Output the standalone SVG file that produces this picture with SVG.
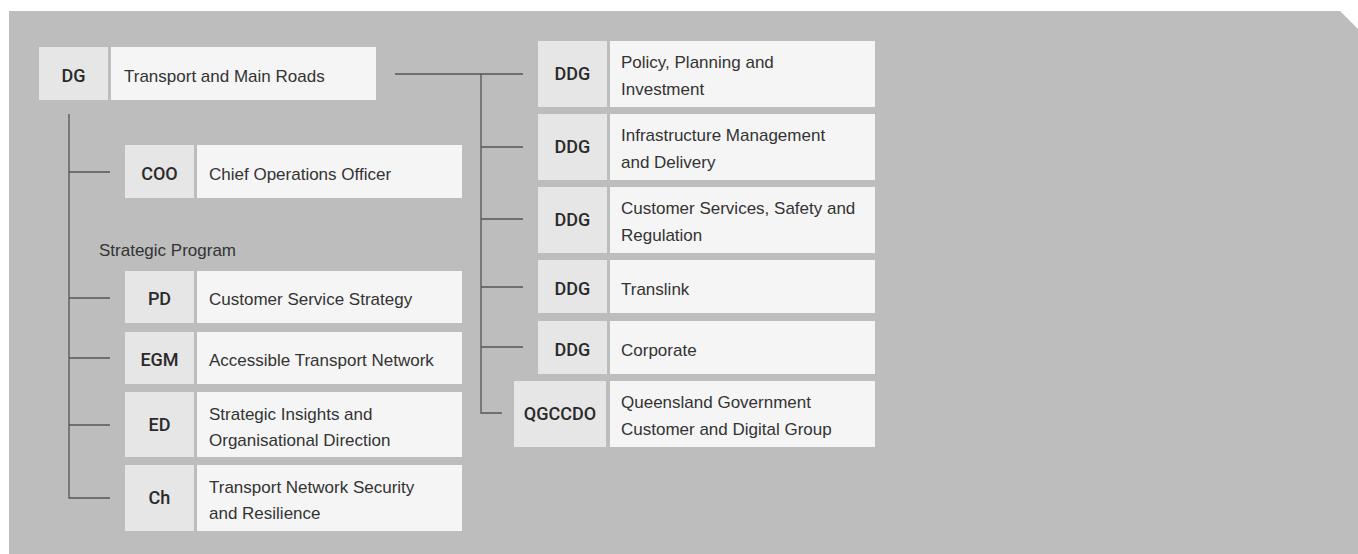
<svg xmlns="http://www.w3.org/2000/svg" width="1358" height="554" viewBox="0 0 1358 554">
<style>
.code{fill:#e6e6e6}
.name{fill:#f5f5f5}
text{font-family:"Liberation Sans",Arial,sans-serif;font-size:17px;fill:#333}
.c{font-family:Roboto,"Liberation Sans",sans-serif;text-anchor:middle;font-weight:500;font-size:18px;fill:#2a2a2a}
.ln{stroke:#555;stroke-width:1.3;fill:none}
</style>
<rect width="1358" height="554" fill="#ffffff"/>
<polygon points="9,11 1340,11 1358,29 1358,554 9,554" fill="#bdbdbd"/>
<g id="connectors">
<path class="ln" d="M395,74 H523 M481,74 V413 H502 M481,147 H523 M481,219 H523 M481,287 H523 M481,347 H523"/>
<path class="ln" d="M69,114 V498 H110 M69,172 H110 M69,298 H110 M69,358 H110 M69,425 H110"/>
</g>
<g id="dg">
<rect class="code" x="39" y="47" width="69" height="53"/>
<rect class="name" x="111" y="47" width="265" height="53"/>
<text class="c" x="73.5" y="82">DG</text>
<text x="124" y="82">Transport and Main Roads</text>
</g>
<g id="coo">
<rect class="code" x="125" y="145" width="69" height="53"/>
<rect class="name" x="197" y="145" width="265" height="53"/>
<text class="c" x="159.5" y="180">COO</text>
<text x="209" y="180">Chief Operations Officer</text>
</g>
<g id="strategic-program">
<text x="99" y="256">Strategic Program</text>
</g>
<g id="pd">
<rect class="code" x="125" y="271" width="69" height="52"/>
<rect class="name" x="197" y="271" width="265" height="52"/>
<text class="c" x="159.5" y="305">PD</text>
<text x="209" y="305">Customer Service Strategy</text>
</g>
<g id="egm">
<rect class="code" x="125" y="332" width="69" height="52"/>
<rect class="name" x="197" y="332" width="265" height="52"/>
<text class="c" x="159.5" y="366">EGM</text>
<text x="209" y="366">Accessible Transport Network</text>
</g>
<g id="ed">
<rect class="code" x="125" y="392" width="69" height="65"/>
<rect class="name" x="197" y="392" width="265" height="65"/>
<text class="c" x="159.5" y="431">ED</text>
<text x="209" y="420">Strategic Insights and</text>
<text x="209" y="446">Organisational Direction</text>
</g>
<g id="ch">
<rect class="code" x="125" y="465" width="69" height="66"/>
<rect class="name" x="197" y="465" width="265" height="66"/>
<text class="c" x="159.5" y="504">Ch</text>
<text x="209" y="493">Transport Network Security</text>
<text x="209" y="519">and Resilience</text>
</g>
<g id="ddg-policy">
<rect class="code" x="538" y="41" width="69" height="66"/>
<rect class="name" x="610" y="41" width="265" height="66"/>
<text class="c" x="572.5" y="80">DDG</text>
<text x="621" y="68">Policy, Planning and</text>
<text x="621" y="95">Investment</text>
</g>
<g id="ddg-infrastructure">
<rect class="code" x="538" y="114" width="69" height="66"/>
<rect class="name" x="610" y="114" width="265" height="66"/>
<text class="c" x="572.5" y="153">DDG</text>
<text x="621" y="141">Infrastructure Management</text>
<text x="621" y="168">and Delivery</text>
</g>
<g id="ddg-customer">
<rect class="code" x="538" y="187" width="69" height="66"/>
<rect class="name" x="610" y="187" width="265" height="66"/>
<text class="c" x="572.5" y="226">DDG</text>
<text x="621" y="214">Customer Services, Safety and</text>
<text x="621" y="241">Regulation</text>
</g>
<g id="ddg-translink">
<rect class="code" x="538" y="260" width="69" height="53"/>
<rect class="name" x="610" y="260" width="265" height="53"/>
<text class="c" x="572.5" y="295">DDG</text>
<text x="621" y="295">Translink</text>
</g>
<g id="ddg-corporate">
<rect class="code" x="538" y="321" width="69" height="53"/>
<rect class="name" x="610" y="321" width="265" height="53"/>
<text class="c" x="572.5" y="356">DDG</text>
<text x="621" y="356">Corporate</text>
</g>
<g id="qgccdo">
<rect class="code" x="514" y="381" width="92" height="66"/>
<rect class="name" x="610" y="381" width="265" height="66"/>
<text class="c" x="560" y="420">QGCCDO</text>
<text x="621" y="408">Queensland Government</text>
<text x="621" y="435">Customer and Digital Group</text>
</g>
</svg>
